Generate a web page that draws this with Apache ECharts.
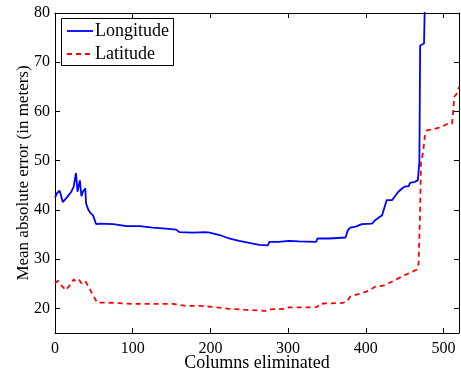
<!DOCTYPE html>
<html>
<head>
<meta charset="utf-8">
<script src="https://cdn.jsdelivr.net/npm/echarts@6/dist/echarts.min.js"></script>
<style>html,body{margin:0;padding:0;background:#fff}#c{width:461px;height:371px}</style>
</head>
<body>
<div id="c"></div>
<script>
const xTicks = [0, 100, 200, 300, 400, 500];
const yTicks = [20, 30, 40, 50, 60, 70, 80];
const seriesNames = ['Longitude', 'Latitude'];

const lonCols = [0,3,6,10,15,21,24,27,29,32,34,36,39,40,41,43,46,49,51,53,58,75,92,109,126,143,156,160,177,194,199,212,224,237,250,263,274,276,288,301,314,336,338,353,374,377,380,387,395,408,412,421,425,427,434,435,442,447,451,455,457,463,467,469,470,472,475,475.6,477];
const lonVals = [42.5,43.5,43.9,41.6,42.5,43.7,44.7,47.5,43.7,46,42.8,43.7,44.4,41.3,41,40,39.3,38.9,38.6,37.1,37.2,37.1,36.7,36.7,36.4,36.2,36.0,35.5,35.4,35.5,35.4,34.9,34.2,33.7,33.3,32.9,32.8,33.5,33.5,33.7,33.6,33.5,34.2,34.2,34.4,35.9,36.4,36.6,37.1,37.2,37.9,38.9,41,42,42,41.6,43.7,44.4,44.8,44.8,45.5,45.7,46,49.7,73.4,73.8,73.8,73.4,90];

const latCols = [0,4,9,14,17,21,24,27,29,31,34,37,40,43,49,54,79,100,126,152,169,186,203,224,246,271,276,297,301,327,338,340,348,370,376,380,395,404,412,425,438,451,466,468,470,471,474,476,479,485,498,504,511,512,514,517,520];
const latVals = [25.1,25.6,24.5,23.7,24.3,25.1,25.9,25.5,25.4,25.8,25.1,25.6,25.3,24.4,22.7,21.2,21.1,20.9,20.9,20.9,20.5,20.5,20.3,19.9,19.7,19.5,19.8,19.9,20.2,20.2,20.3,20.9,21.0,21.1,21.4,22.4,23.1,23.6,24.4,24.7,25.8,26.8,27.9,29.1,40,49.4,52,55,56.2,56.3,56.9,57.4,57.5,59,63,63.6,65];

const pair = (xs, ys) => xs.map((x, i) => [x, ys[i]]);
const font = 'Liberation Serif';
const BLUE = '#0000ff', RED = '#ff0000';
const DASH = [5, 4];
const LW = 1.8;

const baseX = {
  type: 'value', min: 0, max: 520,
  axisLine: { show: true, onZero: false, lineStyle: { color: '#000', width: 1 } },
  axisTick: { show: true, inside: true, length: 5, customValues: xTicks, lineStyle: { color: '#000' } },
  splitLine: { show: false }
};
const baseY = {
  type: 'value', min: 15, max: 80,
  axisLine: { show: true, onZero: false, lineStyle: { color: '#000', width: 1 } },
  axisTick: { show: true, inside: true, length: 5, customValues: yTicks, lineStyle: { color: '#000' } },
  splitLine: { show: false }
};

const chart = echarts.init(document.getElementById('c'), null, { renderer: 'canvas' });
chart.setOption({
  animation: false,
  backgroundColor: '#fff',
  grid: { left: 55, top: 13, right: 2, bottom: 38, containLabel: false, outerBoundsMode: 'none' },
  xAxis: [
    Object.assign({}, baseX, {
      position: 'bottom',
      name: 'Columns eliminated', nameLocation: 'middle', nameGap: 21, nameMoveOverlap: false,
      nameTextStyle: { fontFamily: font, fontSize: 18, color: '#000' },
      axisLabel: { show: true, customValues: xTicks, margin: 8, fontFamily: font, fontSize: 16, color: '#000' }
    }),
    Object.assign({}, baseX, { position: 'top', axisLabel: { show: false } })
  ],
  yAxis: [
    Object.assign({}, baseY, {
      position: 'left',
      name: 'Mean absolute error (in meters)', nameLocation: 'middle', nameGap: 23, nameMoveOverlap: false,
      nameTextStyle: { fontFamily: font, fontSize: 17, color: '#000' },
      axisLabel: { show: true, customValues: yTicks, margin: 5, fontFamily: font, fontSize: 16, color: '#000' }
    }),
    Object.assign({}, baseY, { position: 'right', axisLabel: { show: false } })
  ],
  graphic: [
    { type: 'rect', z: 100, shape: { x: 61.5, y: 18.5, width: 112, height: 47 },
      style: { fill: '#fff', stroke: '#000', lineWidth: 1 } },
    { type: 'line', z: 101, shape: { x1: 67, y1: 31, x2: 93, y2: 31 },
      style: { stroke: BLUE, lineWidth: LW } },
    { type: 'text', z: 101, x: 95, y: 31,
      style: { text: seriesNames[0], font: '18px "Liberation Serif"', fill: '#000', verticalAlign: 'middle' } },
    { type: 'line', z: 101, shape: { x1: 67, y1: 54, x2: 93, y2: 54 },
      style: { stroke: RED, lineWidth: LW, lineDash: DASH } },
    { type: 'text', z: 101, x: 95, y: 54,
      style: { text: seriesNames[1], font: '18px "Liberation Serif"', fill: '#000', verticalAlign: 'middle' } }
  ],
  series: [
    {
      name: seriesNames[0], type: 'line', xAxisIndex: 0, yAxisIndex: 0,
      data: pair(lonCols, lonVals), symbol: 'none', clip: true,
      lineStyle: { color: BLUE, width: LW, type: 'solid' }
    },
    {
      name: seriesNames[1], type: 'line', xAxisIndex: 0, yAxisIndex: 0,
      data: pair(latCols, latVals), symbol: 'none', clip: true,
      lineStyle: { color: RED, width: LW, type: DASH }
    }
  ]
});
</script>
</body>
</html>
